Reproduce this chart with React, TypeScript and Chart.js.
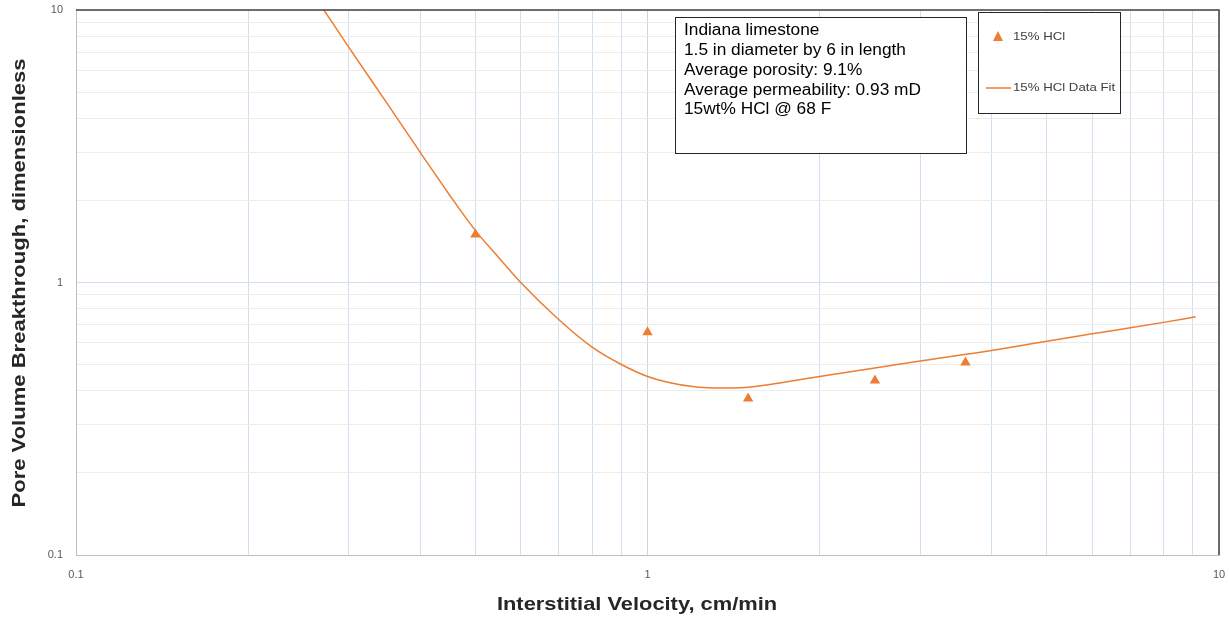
import React, { useEffect, useRef } from 'react';
import { Chart, registerables } from 'chart.js';

Chart.register(...registerables);

// Measured data points
const velocity = [0.5, 1, 1.5, 2.5, 3.6];
const breakthrough = [1.5, 0.657, 0.375, 0.437, 0.509];

// Data-fit curve
const fitVelocity = [0.2715, 0.3, 0.35, 0.4, 0.45, 0.5, 0.55, 0.6, 0.7, 0.8, 0.9, 1, 1.1, 1.2, 1.3, 1.5, 2, 3, 4, 5, 6, 7, 8, 9.1];
const fitBreakthrough = [10, 7.31, 4.55, 3.01, 2.1, 1.55, 1.23, 1.0, 0.73, 0.579, 0.5, 0.452, 0.428, 0.415, 0.41, 0.413, 0.452, 0.515, 0.563, 0.609, 0.648, 0.682, 0.714, 0.748];

// Axis ticks
const gridValues = [0.1, 0.2, 0.3, 0.4, 0.5, 0.6, 0.7, 0.8, 0.9, 1, 2, 3, 4, 5, 6, 7, 8, 9, 10];
const xTickLabels = ['0.1', '1', '10'];
const yTickLabels = ['0.1', '1', '10'];

const infoLines = [
  'Indiana limestone',
  '1.5 in diameter by 6 in length',
  'Average porosity: 9.1%',
  'Average permeability: 0.93 mD',
  '15wt% HCl @ 68 F',
];
const seriesNames = ['15% HCl', '15% HCl Data Fit'];
const xTitle = 'Interstitial Velocity, cm/min';
const yTitle = 'Pore Volume Breakthrough, dimensionless';

const ORANGE = '#ED7D31';
const FONT = '"Liberation Sans", Arial, sans-serif';

function stretchedText(ctx: any, text: string, x: number, y: number, sx: number) {
  ctx.save();
  ctx.translate(x, y);
  ctx.scale(sx, 1);
  ctx.fillText(text, 0, 0);
  ctx.restore();
}

const decorPlugin = {
  id: 'decor',
  afterDraw(chart: any) {
    const ctx = chart.ctx;
    const a = chart.chartArea;
    ctx.save();
    // top & right plot border
    ctx.strokeStyle = '#404040';
    ctx.lineWidth = 1.5;
    ctx.beginPath();
    ctx.moveTo(a.left, a.top);
    ctx.lineTo(a.right, a.top);
    ctx.lineTo(a.right, a.bottom);
    ctx.stroke();

    // info text box
    ctx.fillStyle = '#ffffff';
    ctx.fillRect(675, 17, 291, 136);
    ctx.strokeStyle = '#262626';
    ctx.lineWidth = 1;
    ctx.strokeRect(675.5, 17.5, 291, 136);
    ctx.fillStyle = '#000000';
    ctx.font = `16px ${FONT}`;
    ctx.textAlign = 'left';
    ctx.textBaseline = 'middle';
    infoLines.forEach((t, i) => stretchedText(ctx, t, 684, 31 + i * 19.7, 1.08));

    // legend box
    ctx.fillStyle = '#ffffff';
    ctx.fillRect(978, 12, 142, 101);
    ctx.strokeStyle = '#262626';
    ctx.strokeRect(978.5, 12.5, 142, 101);
    ctx.fillStyle = ORANGE;
    ctx.beginPath();
    ctx.moveTo(998, 31);
    ctx.lineTo(1003, 41);
    ctx.lineTo(993, 41);
    ctx.closePath();
    ctx.fill();
    ctx.strokeStyle = ORANGE;
    ctx.lineWidth = 1.5;
    ctx.beginPath();
    ctx.moveTo(986, 88);
    ctx.lineTo(1011, 88);
    ctx.stroke();
    ctx.fillStyle = '#404040';
    ctx.font = `11.5px ${FONT}`;
    stretchedText(ctx, seriesNames[0], 1013, 37, 1.15);
    stretchedText(ctx, seriesNames[1], 1013, 88, 1.15);

    // axis titles
    ctx.fillStyle = '#262626';
    ctx.font = `bold 19px ${FONT}`;
    ctx.textAlign = 'center';
    stretchedText(ctx, xTitle, 637, 605, 1.15);
    ctx.translate(20, 283);
    ctx.rotate(-Math.PI / 2);
    ctx.font = `bold 19px ${FONT}`;
    stretchedText(ctx, yTitle, 0, 0, 1.16);
    ctx.restore();
  },
};

export default function App() {
  const ref = useRef<HTMLCanvasElement>(null);
  useEffect(() => {
    document.body.style.margin = '0';
    const chart = new Chart(ref.current as HTMLCanvasElement, {
      type: 'scatter',
      data: {
        datasets: [
          {
            label: seriesNames[0],
            data: velocity.map((x, i) => ({ x, y: breakthrough[i] })),
            pointStyle: 'triangle',
            pointRadius: 6,
            backgroundColor: ORANGE,
            borderColor: ORANGE,
            borderWidth: 0,
            showLine: false,
          },
          {
            label: seriesNames[1],
            data: fitVelocity.map((x, i) => ({ x, y: fitBreakthrough[i] })),
            showLine: true,
            pointRadius: 0,
            borderColor: ORANGE,
            borderWidth: 1.5,
            cubicInterpolationMode: 'monotone',
          } as any,
        ],
      },
      options: {
        animation: false,
        responsive: true,
        maintainAspectRatio: false,
        layout: { padding: { top: 10, right: 10, left: 0, bottom: 0 } },
        plugins: { legend: { display: false }, tooltip: { enabled: false } },
        scales: {
          x: {
            type: 'logarithmic',
            min: 0.1,
            max: 10,
            afterBuildTicks: (s: any) => {
              s.ticks = gridValues.map((v) => ({ value: v }));
            },
            afterFit: (s: any) => {
              s.height = 64;
              s.paddingLeft = 0;
              s.paddingRight = 0;
            },
            ticks: {
              autoSkip: false,
              maxRotation: 0,
              padding: 13,
              color: '#595959',
              font: { family: FONT, size: 11 },
              callback: (v: any) => (xTickLabels.includes(String(v)) ? String(v) : ''),
            },
            grid: {
              drawTicks: false,
              color: (c: any) => (c.tick && c.tick.value === 1 ? '#d4d4d4' : '#cfe0f3'),
            },
            border: { color: '#bfbfbf' },
          },
          y: {
            type: 'logarithmic',
            min: 0.1,
            max: 10,
            afterBuildTicks: (s: any) => {
              s.ticks = gridValues.map((v) => ({ value: v }));
            },
            afterFit: (s: any) => {
              s.width = 76;
              s.paddingTop = 0;
              s.paddingBottom = 0;
            },
            ticks: {
              autoSkip: false,
              padding: 13,
              color: '#595959',
              font: { family: FONT, size: 11 },
              callback: (v: any) => (yTickLabels.includes(String(v)) ? String(v) : ''),
            },
            grid: {
              drawTicks: false,
              color: (c: any) => (c.tick && c.tick.value === 1 ? '#cfe0f3' : '#ececec'),
            },
            border: { color: '#bfbfbf' },
          },
        },
      } as any,
      plugins: [decorPlugin],
    });
    return () => chart.destroy();
  }, []);
  return (
    <div style={{ position: 'fixed', left: 0, top: 0, width: 1229, height: 619, background: '#fff' }}>
      <canvas ref={ref} />
    </div>
  );
}
